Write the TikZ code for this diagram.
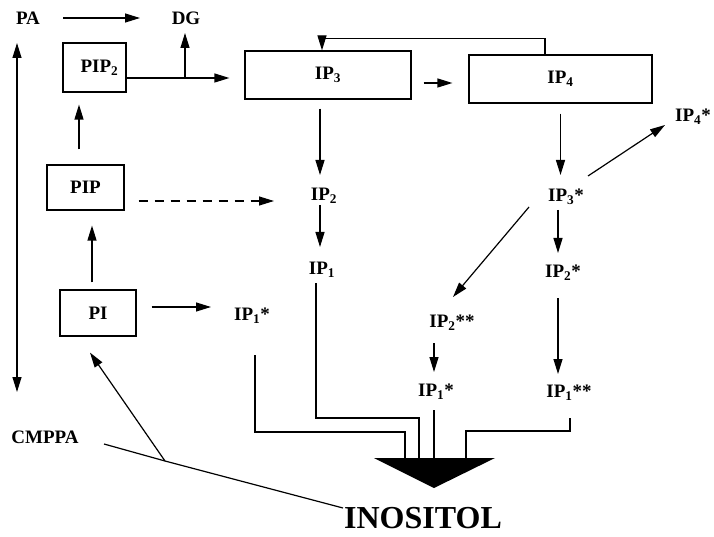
\documentclass[tikz,border=0pt]{standalone}
\usepackage{fontspec}
\setmainfont{Liberation Serif}
\usetikzlibrary{arrows.meta}

\tikzset{
  >={Triangle[length=15pt,width=9pt]},
  box/.style={draw,inner sep=0pt,font=\fontsize{19}{21}\selectfont\bfseries},
  lbl/.style={inner sep=0pt,font=\fontsize{19}{21}\selectfont\bfseries},
}

\begin{document}
\begin{tikzpicture}[x=1pt,y=-1pt,line width=1.2pt]
  \useasboundingbox (0,0) rectangle (714,537);
  % lipids
  \node[lbl] (pa) at (28,18) {PA};
  \node[lbl] (dg) at (186,18) {DG};
  \node[box,minimum width=63pt,minimum height=49pt] (pip2) at (94.5,67.5) {\hspace*{10pt}PIP\textsubscript{2}};
  \node[box,minimum width=77pt,minimum height=45pt] (pip) at (85.5,187.5) {PIP};
  \node[box,minimum width=76pt,minimum height=46pt] (pi) at (98,313) {PI};
  \node[lbl] (cmppa) at (45,437) {CMPPA};
  % inositol phosphates
  \node[box,minimum width=166pt,minimum height=48pt] (ip3) at (328,75) {IP\textsubscript{3}};
  \node[box,minimum width=183pt,minimum height=48pt] (ip4) at (560.5,79) {IP\textsubscript{4}};
  \node[lbl] (ip2) at (324,196) {IP\textsubscript{2}};
  \node[lbl] (ip1) at (322,270) {IP\textsubscript{1}};
  \node[lbl] (ip1a) at (252,316) {IP\textsubscript{1}*};
  \node[lbl] (ip3s) at (566,197) {IP\textsubscript{3}*};
  \node[lbl] (ip4s) at (693,117) {IP\textsubscript{4}*};
  \node[lbl] (ip2s) at (563,273) {IP\textsubscript{2}*};
  \node[lbl] (ip2ss) at (452,323) {IP\textsubscript{2}**};
  \node[lbl] (ip1b) at (436,392) {IP\textsubscript{1}*};
  \node[lbl] (ip1ss) at (569,393) {IP\textsubscript{1}**};
  \node[lbl,font=\fontsize{32}{36}\selectfont\bfseries] (inositol) at (423,518) {INOSITOL};
  \coordinate (ptop) at (17,43);
  \coordinate (pbot) at (17,392);
  \coordinate (split) at (185,78);
  \coordinate (junction) at (165,461);
  \coordinate (funnel) at (434,458);
  \fill (374,458) -- (495,458) -- (434,488) -- cycle;

  % left side
  \draw[->,shorten <=35pt,shorten >=46pt] (pa.center) -- (dg.center);
  \draw[<->] (ptop) -- (pbot);
  \draw[->,shorten <=15pt,shorten >=12pt] ([xshift=-6.5pt]pip.north) -- ([xshift=-6.5pt]pip.north |- pip2.south);
  \draw[->,shorten >=15pt] ([yshift=-10.5pt]pip2.east) -- ([yshift=-10.5pt]pip2.east -| ip3.west);
  \draw[->,shorten >=15pt] (split) -- (split |- dg.center);
  \draw[->,shorten <=7pt,shorten >=15pt] ([xshift=-6pt]pi.north) -- ([xshift=-6pt]pi.north |- pip.south);
  \draw[->,dash pattern=on 9pt off 7pt,shorten <=14pt,shorten >=48pt] ([yshift=-13.5pt]pip.east) -- ([yshift=-13.5pt]pip.east -| 322,0);
  \draw[->,shorten <=15pt,shorten >=41pt] ([yshift=6pt]pi.east) -- ([yshift=6pt]pi.east -| ip1a.center);
  \draw ([shift={(59,7)}]cmppa.center) -- (junction) -- ([shift={(-80,-10)}]inositol.center);
  \draw[->] (junction) -- ([shift={(-8,16)}]pi.south);

  % IP3 / IP4 branch
  \draw[->] ([xshift=-15.5pt]ip4.north) -- ++(0,-16) -| ([xshift=-6pt]ip3.north);
  \draw[->,shorten <=12pt,shorten >=16pt] ([yshift=-8pt]ip3.east) -- ([yshift=-8pt]ip3.east -| ip4.west);
  \draw[->,shorten <=9pt,shorten >=21pt] ([xshift=-8pt]ip3.south) -- ([xshift=-8pt]ip3.south |- ip2.center);
  \draw[->,shorten <=9pt,shorten >=23pt] ([xshift=-2pt]ip1.center |- ip2.center) -- ([xshift=-2pt]ip1.center);
  \draw[->,shorten <=10pt,shorten >=22pt] (ip4.south) -- (ip4.south |- ip3s.center);
  \draw[->] ([shift={(22,-21)}]ip3s.center) -- ([shift={(-28,8)}]ip4s.center);
  \draw[->] ([shift={(-37,10)}]ip3s.center) -- ([shift={(1,-26)}]ip2ss.center);
  \draw[->,shorten <=13pt,shorten >=20pt] ([xshift=-8pt]ip3s.center) -- ([xshift=-8pt]ip3s.center |- ip2s.center);
  \draw[->,shorten <=25pt,shorten >=19pt] ([xshift=-5pt]ip2s.center) -- ([xshift=-5pt]ip2s.center |- ip1ss.center);
  \draw[->,shorten <=20pt,shorten >=20pt] ([xshift=-2pt]ip1b.center |- ip2ss.center) -- ([xshift=-2pt]ip1b.center);

  % into inositol
  \draw ([xshift=3pt]ip1a.center) ++(0,39) |- ([xshift=-29pt,yshift=26pt]funnel) -- ([xshift=-29pt]funnel);
  \draw ([xshift=-6pt]ip1.center) ++(0,13) |- ([xshift=-15pt,yshift=40pt]funnel) -- ([xshift=-15pt]funnel);
  \draw ([xshift=-2pt]ip1b.center) ++(0,18) -- (funnel);
  \draw ([xshift=1pt]ip1ss.center) ++(0,25) |- ([xshift=32pt,yshift=27pt]funnel) -- ([xshift=32pt]funnel);
\end{tikzpicture}
\end{document}
